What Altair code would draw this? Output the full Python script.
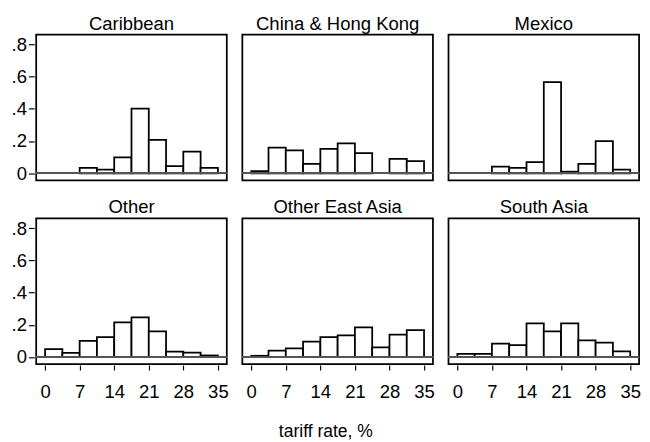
import altair as alt
import pandas as pd

regions = ["Caribbean", "China & Hong Kong", "Mexico", "Other", "Other East Asia", "South Asia"]
bin_lo = [0, 3.5, 7, 10.5, 14, 17.5, 21, 24.5, 28, 31.5]
bin_hi = [3.5, 7, 10.5, 14, 17.5, 21, 24.5, 28, 31.5, 35]

caribbean = [0.0, 0.0, 0.034, 0.022, 0.099, 0.402, 0.208, 0.044, 0.135, 0.034]
china_hk = [0.014, 0.160, 0.143, 0.059, 0.152, 0.186, 0.125, 0.0, 0.089, 0.075]
mexico = [0.0, 0.0, 0.042, 0.034, 0.069, 0.566, 0.010, 0.059, 0.200, 0.022]
other = [0.050, 0.026, 0.100, 0.124, 0.216, 0.246, 0.160, 0.034, 0.028, 0.010]
other_east_asia = [0.008, 0.040, 0.054, 0.096, 0.124, 0.134, 0.184, 0.060, 0.140, 0.168]
south_asia = [0.020, 0.020, 0.084, 0.074, 0.210, 0.160, 0.210, 0.104, 0.090, 0.036]

x_ticks = [0, 7, 14, 21, 28, 35]
y_ticks = [0, 0.2, 0.4, 0.6, 0.8]

series = [caribbean, china_hk, mexico, other, other_east_asia, south_asia]
rows = []
for reg, vals in zip(regions, series):
    for lo, hi, v in zip(bin_lo, bin_hi, vals):
        if v > 0:
            rows.append({"region": reg, "lo": lo, "hi": hi, "density": v})
df = pd.DataFrame(rows)

FONT = "Liberation Sans"
W, H = 196, 150

xscale = alt.Scale(domain=[-1.8, 36.8], nice=False, zero=False)
yscale = alt.Scale(domain=[-0.044, 0.862], nice=False, zero=False)

bars = alt.Chart().mark_rect(fill="white", stroke="black", strokeWidth=1.8).encode(
    x=alt.X("lo:Q", scale=xscale,
            axis=alt.Axis(values=x_ticks, tickCount=12, title=None, grid=False, domain=False,
                          tickSize=5, tickColor="black", tickWidth=1.2,
                          labelFont=FONT, labelFontSize=19, labelColor="black",
                          labelPadding=13, labelFlush=False, labelOverlap=False)),
    x2="hi:Q",
    y=alt.Y("density:Q", scale=yscale,
            axis=alt.Axis(values=y_ticks, tickCount=12, title=None, grid=False, domain=False,
                          tickSize=6, tickColor="black", tickWidth=1.2,
                          labelFont=FONT, labelFontSize=19, labelColor="black",
                          labelPadding=2, labelFlush=False, labelOverlap=False,
                          format=".1f",
                          labelExpr="datum.value < 0.01 ? '0' : replace(datum.label, '0.', '.')")),
    y2=alt.datum(0),
)

zero_rule = alt.Chart().mark_rule(color="#555", strokeWidth=1.5).encode(
    y=alt.datum(0),
    x=alt.value(0),
    x2=alt.value(W),
)

chart = alt.layer(bars, zero_rule, data=df).properties(width=W, height=H).facet(
    facet=alt.Facet("region:N", sort=regions,
                    header=alt.Header(title=None, labelFontSize=19, labelFont=FONT,
                                      labelColor="black", labelPadding=1)),
    columns=3,
    spacing={"row": 17, "column": 12},
).properties(
    title=alt.TitleParams(text="tariff rate, %", orient="bottom", anchor="middle",
                          font=FONT, fontSize=18, fontWeight="normal", color="black", offset=23),
    padding={"left": 3, "top": 0, "right": 1, "bottom": 2},
    background="white",
).configure_view(stroke="black", strokeWidth=1.8)

chart.save("out.html", embed_options={"renderer": "svg", "actions": False})
